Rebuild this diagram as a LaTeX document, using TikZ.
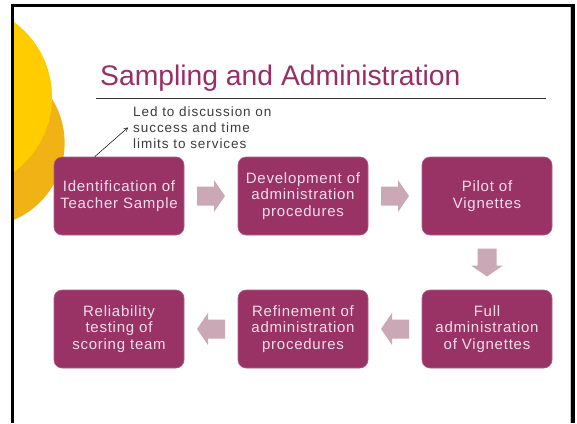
\documentclass[tikz,border=0pt]{standalone}
\usepackage{fontspec}
\setmainfont{Liberation Sans}
\newfontfamily\boxfont[LetterSpace=5]{Liberation Sans}
\newfontfamily\annfont[LetterSpace=7]{Liberation Sans}
\usetikzlibrary{calc,arrows.meta}
\definecolor{plum}{RGB}{153,51,102}
\definecolor{plumedge}{RGB}{176,96,136}
\definecolor{boxtext}{RGB}{244,222,234}
\definecolor{arrowpink}{RGB}{203,168,182}
\definecolor{sunA}{RGB}{255,204,0}
\definecolor{sunB}{RGB}{240,178,20}
\definecolor{titlecol}{RGB}{153,45,102}
\definecolor{anncol}{RGB}{60,60,60}
\begin{document}
\begin{tikzpicture}[x=1pt,y=-1pt,
 stepbox/.style={fill=plum, draw=plumedge, line width=0.6pt, rounded corners=8pt,
   minimum width=130pt, minimum height=78pt, text width=126pt, align=center,
   inner sep=0pt, text=boxtext, font=\boxfont\fontsize{15}{16.5}\selectfont},
 blockarr/.pic={\fill[arrowpink] (-14,-9.5) -- (3,-9.5) -- (3,-16) -- (14,0)
   -- (3,16) -- (3,9.5) -- (-14,9.5) -- cycle;},
]
\useasboundingbox (0,0) rectangle (577,423);
\fill[white] (0,0) rectangle (577,423);
\fill[black] (11,4) rectangle (575,423);
\fill[white] (14,7) rectangle (571,423);
\draw[gray!45, line width=0.8pt] (570,7) -- (570,423);
\begin{scope}
\clip (14,7) rectangle (569.5,423);
\fill[sunB] (-19,143) circle (83.6pt);
\fill[sunA] (-41,97) circle (93pt);
\end{scope}

\node[anchor=base west, inner sep=0pt, text=titlecol, font=\fontsize{28.3}{30}\selectfont] (title) at (100,85) {Sampling and Administration};
\draw[black!80, line width=1pt] (96,98) -- (546,98);

\node[stepbox] (b1) at (119,196) {Identification of\\Teacher Sample};
\node[stepbox] (b2) at (303,196) {Development of\\administration\\procedures};
\node[stepbox] (b3) at (487,196) {Pilot of\\Vignettes};
\node[stepbox] (b4) at (119,329) {Reliability\\testing of\\scoring team};
\node[stepbox] (b5) at (303,329) {Refinement of\\administration\\procedures};
\node[stepbox] (b6) at (487,329) {Full\\administration\\of Vignettes};

\pic at ($(b1.east)!0.5!(b2.west)$) {blockarr};
\pic at ($(b2.east)!0.5!(b3.west)$) {blockarr};
\pic[rotate=-90] at ($(b3.south)!0.5!(b6.north)$) {blockarr};
\pic[rotate=180] at ($(b6.west)!0.5!(b5.east)$) {blockarr};
\pic[rotate=180] at ($(b5.west)!0.5!(b4.east)$) {blockarr};

\node[anchor=west, inner sep=0pt, align=left, text=anncol, font=\annfont\fontsize{13.5}{16}\selectfont] (ann) at (133,127.5) {Led to discussion on\\success and time\\limits to services};
\draw[black, line width=0.5pt, -{Straight Barb[length=3.5pt,width=4pt]}] ([xshift=41pt]b1.north west) -- ([xshift=-5pt]ann.west);
\end{tikzpicture}
\end{document}
